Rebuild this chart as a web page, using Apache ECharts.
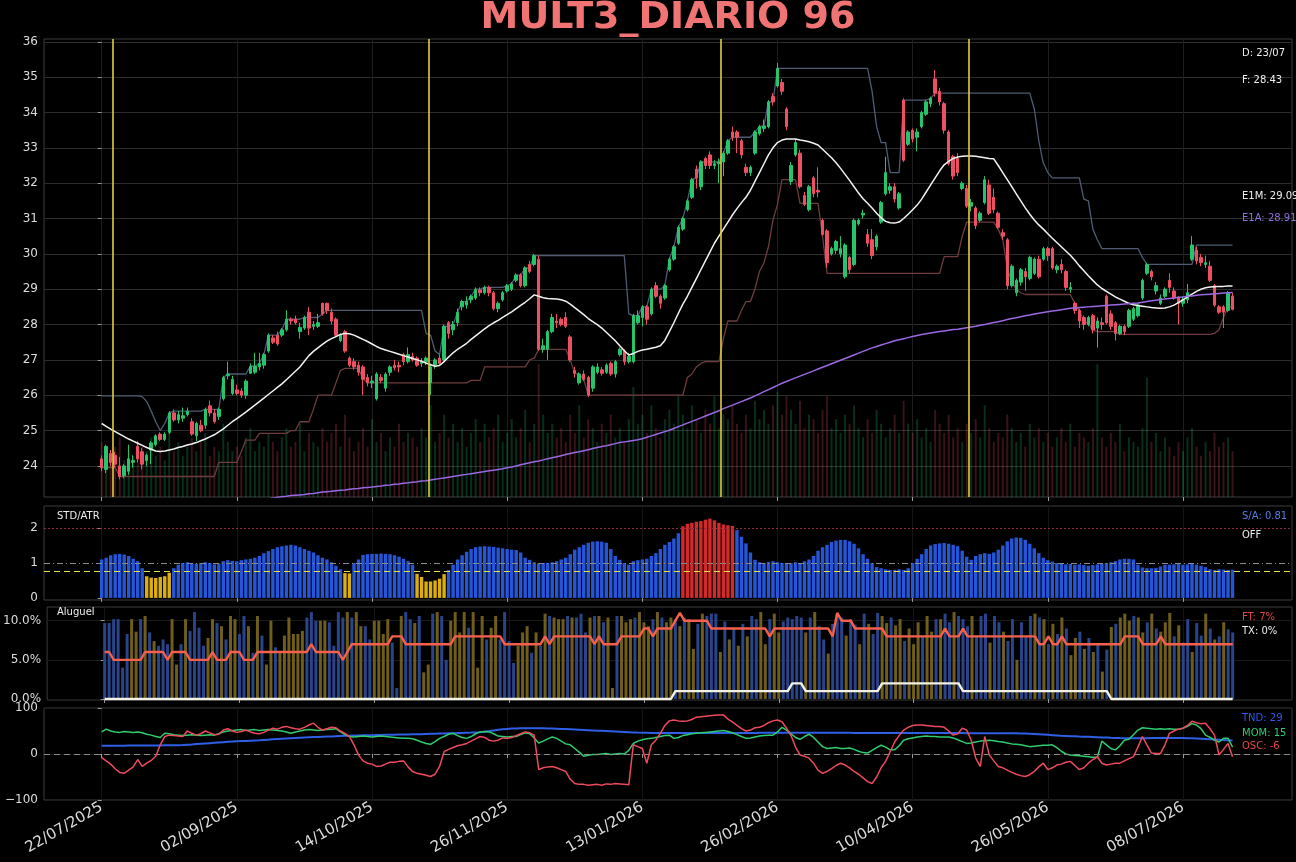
<!DOCTYPE html>
<html lang="pt-BR">
<head>
<meta charset="UTF-8">
<title>MULT3_DIARIO 96</title>
<script src="https://cdn.jsdelivr.net/npm/echarts@6.0.0/dist/echarts.min.js"></script>
<style>
  html, body { margin: 0; padding: 0; background: #000; }
  #main { width: 1296px; height: 862px; }
</style>
</head>
<body>
<div id="main"></div>
<script>
// ---- data (one entry per trading day, index 0 = 22/07/2025) ----
const tickIdx = [0, 30, 60, 90, 120, 150, 180, 210, 240];
const tickLabels = ['22/07/2025', '02/09/2025', '14/10/2025', '26/11/2025', '13/01/2026', '26/02/2026', '10/04/2026', '26/05/2026', '08/07/2026'];
const signalIdx = [2.5, 72.5, 137.5, 192.5];

const priceOpen = [
24.20,23.90,24.35,24.30,24.00,23.72,23.85,24.10,24.55,24.40,
24.15,24.45,24.60,24.90,24.75,24.95,25.50,25.30,25.35,25.45,
25.25,24.85,25.15,25.15,25.70,25.50,25.40,25.90,26.55,26.05,
26.15,26.12,26.00,26.62,26.65,26.80,26.85,27.25,27.62,27.70,
27.70,27.85,28.15,28.15,27.80,27.90,28.35,27.95,27.95,28.60,
28.60,28.35,28.15,27.55,27.80,27.05,26.95,26.85,26.80,26.50,
26.35,25.90,26.50,26.20,26.65,26.85,26.85,27.15,26.95,27.10,
27.05,26.90,26.95,26.35,26.85,27.05,27.00,28.05,27.85,28.05,
28.50,28.55,28.70,28.75,28.98,28.90,29.05,28.90,28.45,28.70,
28.95,29.00,29.25,29.40,29.10,29.70,29.70,29.85,27.30,27.30,
27.80,28.10,28.15,28.20,27.65,26.70,26.35,26.60,26.50,26.20,
26.65,26.72,26.65,26.90,26.60,27.15,27.25,26.95,26.95,28.05,
28.20,28.50,28.30,29.10,28.80,28.75,29.55,29.85,30.30,30.70,
31.25,31.60,32.40,31.90,32.70,32.80,32.50,32.55,32.60,32.85,
33.45,33.45,33.20,32.45,32.30,32.85,33.40,33.55,33.60,34.45,
34.75,34.85,34.10,32.05,32.80,32.85,31.65,31.25,32.15,31.80,
30.95,30.65,30.00,30.10,30.00,29.35,29.90,29.70,30.85,31.10,
30.55,30.40,30.20,30.90,31.70,31.80,31.90,31.30,34.35,33.10,
33.50,33.30,33.60,33.95,34.25,34.95,34.60,34.25,33.45,32.75,
32.70,31.85,31.85,31.35,31.30,30.95,31.45,31.95,31.60,31.15,
30.60,30.40,29.10,28.90,29.20,29.50,29.30,29.45,29.85,29.85,
30.15,30.15,29.55,29.70,29.50,29.00,28.60,28.40,28.20,28.00,
28.25,27.90,28.05,28.80,28.30,28.05,27.75,27.95,27.95,28.15,
28.25,28.75,29.45,29.50,28.95,28.60,28.80,29.25,28.95,28.75,
28.60,28.70,29.85,30.10,29.90,29.70,29.65,29.10,28.50,28.50,
28.40,28.80];

const priceClose = [
23.95,24.55,24.10,24.05,23.70,24.00,24.20,24.15,24.20,24.05,
24.30,24.65,24.85,24.75,24.90,25.50,25.30,25.45,25.42,25.55,
24.90,25.20,25.00,25.60,25.50,25.25,25.60,26.50,26.60,26.45,
26.05,26.00,26.40,26.82,26.82,26.90,27.15,27.70,27.50,27.45,
27.85,28.15,28.10,28.05,27.92,28.20,27.90,28.00,28.05,28.30,
28.40,28.10,27.70,27.70,27.25,26.85,26.80,26.65,26.45,26.35,
26.40,26.60,26.42,26.60,26.80,26.78,26.80,26.95,27.15,27.00,
26.85,26.95,27.05,26.80,27.00,26.90,27.95,27.75,28.00,28.35,
28.65,28.65,28.80,29.00,28.90,29.05,28.90,28.45,28.60,28.90,
29.10,29.15,29.40,29.10,29.60,29.50,29.95,27.30,27.40,27.80,
28.20,28.05,28.00,27.95,27.00,26.62,26.60,26.45,26.00,26.80,
26.80,26.62,26.85,26.60,26.95,27.30,26.95,27.10,28.25,28.25,
28.50,28.15,29.00,28.80,28.60,29.10,29.85,30.20,30.75,31.00,
31.50,32.10,32.15,32.60,32.50,32.50,32.55,32.60,32.85,33.20,
33.30,33.30,32.80,32.30,32.45,33.45,33.60,33.62,34.30,34.30,
35.25,34.60,33.60,32.50,33.15,31.90,31.40,31.90,31.70,31.75,
30.55,29.75,30.15,30.35,30.15,30.25,29.55,30.95,30.95,31.15,
30.30,29.95,30.50,31.45,32.30,31.90,31.55,31.70,32.65,33.45,
33.25,33.45,34.00,34.30,34.40,34.55,34.30,33.50,32.55,32.20,
32.30,32.00,31.35,31.45,30.80,31.15,32.10,31.15,31.25,30.75,
30.50,29.10,29.65,29.25,29.55,29.35,29.90,29.85,29.35,30.15,
29.95,29.60,29.65,29.55,29.05,29.05,28.40,28.10,28.00,28.20,
27.85,28.10,28.00,28.05,27.95,27.75,27.95,27.80,28.40,28.45,
28.55,29.25,29.70,29.35,29.10,28.75,29.00,29.05,28.75,28.60,
28.70,28.90,30.25,29.80,29.75,29.75,29.25,28.55,28.35,28.35,
28.90,28.43];

const priceLow = [
23.85,23.80,24.00,23.95,23.62,23.65,23.75,23.95,24.10,23.90,
24.00,24.05,24.55,24.70,24.70,24.90,25.25,25.20,25.25,25.40,
24.85,24.70,24.95,25.05,25.40,25.20,25.30,25.85,26.45,26.00,
26.00,25.92,25.90,26.60,26.60,26.70,26.75,27.20,27.45,27.40,
27.65,27.80,28.00,28.00,27.60,27.85,27.70,27.85,27.90,28.25,
28.30,28.00,27.65,27.50,27.20,26.80,26.72,26.55,26.00,26.25,
26.20,25.85,26.35,26.10,26.55,26.70,26.65,26.85,26.90,26.95,
26.80,26.80,26.85,26.00,26.75,26.85,26.95,27.60,27.70,27.95,
28.40,28.45,28.60,28.70,28.80,28.85,28.80,28.40,28.35,28.65,
28.90,28.95,29.20,29.05,29.05,29.45,29.65,27.25,27.20,27.00,
27.75,27.90,27.95,27.90,26.95,26.50,26.30,26.40,25.95,26.10,
26.60,26.55,26.60,26.55,26.50,27.10,26.85,26.90,26.90,28.00,
27.95,28.00,28.25,28.75,28.45,28.70,29.50,29.80,30.25,30.65,
31.20,31.55,31.85,31.80,32.40,32.40,32.40,32.00,32.20,32.80,
33.20,32.85,32.70,32.20,32.20,32.80,33.35,33.45,33.55,34.20,
34.70,34.50,33.50,31.95,32.75,31.85,31.35,31.20,31.60,31.60,
30.50,29.60,29.95,30.00,29.90,29.30,29.45,29.65,30.80,31.00,
30.20,29.85,30.10,30.85,31.65,31.70,31.45,31.25,32.60,33.05,
33.15,32.90,33.55,33.90,34.15,34.45,34.20,33.40,32.50,32.10,
32.20,31.80,31.30,31.20,30.70,30.90,31.40,31.10,31.15,30.70,
30.40,29.00,29.05,28.80,29.10,28.95,29.25,29.40,29.30,29.80,
29.80,29.55,29.45,29.45,28.95,28.90,28.30,27.90,27.85,27.95,
27.75,27.35,27.85,28.00,27.85,27.55,27.70,27.70,27.90,28.10,
28.20,28.70,29.40,29.25,28.85,28.55,28.75,28.90,28.70,28.00,
28.50,28.60,29.80,29.70,29.65,29.60,29.20,28.50,28.30,27.90,
28.35,28.40];

const priceHigh = [
24.30,24.60,24.45,24.40,24.25,24.05,24.60,24.30,24.70,24.50,
24.35,24.70,24.90,24.95,24.95,25.55,25.60,25.55,25.65,25.65,
25.35,25.25,25.30,25.65,25.85,25.60,25.65,26.55,26.95,26.55,
26.30,26.20,26.45,26.90,27.20,27.20,27.20,27.75,27.70,27.80,
27.90,28.40,28.20,28.25,28.05,28.25,28.50,28.10,28.30,28.62,
28.62,28.45,28.20,27.75,27.85,27.10,27.05,26.95,26.85,26.60,
26.55,26.65,26.60,26.65,26.85,27.00,26.95,27.20,27.35,27.20,
27.10,27.05,27.10,26.90,27.05,27.15,28.00,28.10,28.10,28.45,
28.70,28.80,28.85,29.05,29.05,29.10,29.10,28.95,28.65,28.95,
29.15,29.20,29.45,29.45,29.65,29.80,30.00,29.95,27.60,27.85,
28.30,28.30,28.20,28.35,27.70,26.80,26.65,26.70,26.55,26.85,
26.90,26.80,26.90,26.95,27.00,27.35,27.30,27.20,28.30,28.40,
28.55,28.55,29.05,29.20,28.85,29.15,29.90,30.25,30.80,31.05,
31.55,32.15,32.50,32.65,32.75,32.90,32.65,32.70,32.90,33.25,
33.60,33.50,33.25,32.55,32.50,33.50,33.65,33.80,34.35,34.55,
35.40,34.95,34.15,32.60,33.25,32.95,31.75,31.95,32.20,32.45,
31.00,30.70,30.20,30.40,30.50,30.30,29.95,31.00,31.00,31.25,
30.70,30.70,30.55,31.50,32.75,32.00,32.00,31.75,34.40,33.50,
33.55,33.55,34.05,34.35,34.45,35.20,34.70,34.30,33.50,32.80,
32.85,32.05,31.95,31.55,31.35,31.20,32.20,32.10,31.85,31.20,
30.70,30.45,29.70,29.30,29.60,29.60,29.95,29.90,29.95,30.20,
30.20,30.20,29.70,29.85,29.55,29.20,28.65,28.45,28.25,28.25,
28.30,28.20,28.20,28.85,28.40,28.10,28.00,28.00,28.45,28.50,
28.60,29.30,29.75,29.55,29.20,28.85,29.05,29.45,29.05,28.80,
28.80,29.15,30.50,30.20,30.00,29.95,29.80,29.15,28.55,28.55,
28.95,28.90];

// volume, in hundredths of the price-panel height
const volume = [
12,10,9,11,13,8,10,9,12,11, 10,13,9,11,8,14,10,12,9,11,
13,10,12,14,9,11,10,16,12,10, 11,9,13,15,10,12,11,14,12,10,
13,15,11,12,16,10,14,12,11,15, 12,14,16,11,18,13,10,12,15,11,
17,12,14,10,13,11,16,12,14,13, 11,15,13,20,12,14,18,13,16,12,
15,11,14,17,12,16,13,15,18,12, 14,17,13,15,19,12,16,29,18,14,
16,13,15,12,18,14,20,13,17,15, 12,16,14,18,13,15,12,17,24,16,
18,14,20,15,13,17,19,16,22,18, 15,20,17,14,19,16,22,15,18,17,
20,16,14,18,15,21,17,19,16,20, 23,18,22,19,16,21,15,18,17,14,
19,22,15,17,14,18,16,20,15,13, 17,14,19,16,13,15,18,14,21,16,
14,17,13,15,12,19,16,14,18,13, 15,12,16,14,17,13,20,15,12,14,
13,18,15,12,14,11,16,13,15,12, 14,11,13,15,12,16,11,14,13,12,
15,29,13,11,14,12,16,10,13,12, 11,15,26,12,14,10,13,11,9,12,
10,13,15,11,9,12,10,14,11,12, 13,10];

const ema1m = [
25.20,25.12,25.04,24.97,24.90,24.83,24.76,24.70,24.64,24.58,
24.52,24.47,24.42,24.41,24.42,24.45,24.48,24.52,24.55,24.59,
24.62,24.66,24.71,24.76,24.82,24.88,24.96,25.05,25.15,25.25,
25.34,25.43,25.52,25.62,25.72,25.82,25.92,26.02,26.12,26.22,
26.32,26.44,26.56,26.68,26.80,26.96,27.12,27.24,27.34,27.44,
27.53,27.60,27.66,27.72,27.75,27.74,27.70,27.64,27.58,27.52,
27.45,27.38,27.32,27.28,27.24,27.20,27.16,27.12,27.08,27.04,
27.00,26.96,26.91,26.86,26.82,26.84,26.95,27.08,27.20,27.30,
27.38,27.47,27.58,27.68,27.78,27.88,27.97,28.05,28.12,28.20,
28.28,28.36,28.45,28.54,28.63,28.73,28.84,28.80,28.76,28.74,
28.73,28.72,28.70,28.66,28.58,28.48,28.38,28.28,28.17,28.08,
28.00,27.90,27.78,27.66,27.54,27.40,27.26,27.14,27.18,27.24,
27.28,27.30,27.33,27.36,27.40,27.55,27.80,28.05,28.32,28.58,
28.80,29.05,29.30,29.55,29.80,30.05,30.30,30.50,30.70,30.90,
31.10,31.28,31.45,31.60,31.80,32.05,32.30,32.55,32.80,33.00,
33.15,33.22,33.25,33.25,33.25,33.22,33.20,33.17,33.13,33.08,
32.96,32.84,32.72,32.58,32.42,32.25,32.08,31.90,31.72,31.56,
31.43,31.30,31.15,31.02,30.92,30.88,30.87,30.90,31.00,31.12,
31.25,31.38,31.55,31.75,31.95,32.15,32.35,32.52,32.62,32.70,
32.74,32.76,32.77,32.77,32.76,32.74,32.72,32.70,32.69,32.50,
32.30,32.10,31.90,31.70,31.50,31.30,31.12,30.96,30.82,30.70,
30.57,30.44,30.32,30.20,30.08,29.96,29.82,29.66,29.52,29.38,
29.25,29.12,29.02,28.94,28.86,28.78,28.72,28.66,28.60,28.56,
28.54,28.52,28.50,28.48,28.47,28.46,28.47,28.50,28.55,28.62,
28.70,28.78,28.86,28.94,29.00,29.04,29.06,29.07,29.08,29.08,
29.09,29.09];

const ema1a = [
22.60,22.61,22.62,22.63,22.64,22.65,22.66,22.67,22.68,22.70,
22.71,22.72,22.73,22.74,22.75,22.77,22.78,22.79,22.80,22.81,
22.83,22.84,22.85,22.86,22.88,22.89,22.90,22.92,22.93,22.94,
22.96,22.97,22.98,23.00,23.01,23.03,23.05,23.07,23.09,23.11,
23.13,23.14,23.16,23.17,23.18,23.19,23.21,23.22,23.24,23.26,
23.27,23.28,23.30,23.31,23.32,23.34,23.35,23.36,23.38,23.39,
23.40,23.42,23.43,23.45,23.46,23.48,23.49,23.51,23.52,23.54,
23.55,23.57,23.58,23.60,23.62,23.64,23.66,23.68,23.70,23.72,
23.74,23.76,23.78,23.80,23.82,23.84,23.86,23.88,23.90,23.92,
23.95,23.97,24.00,24.03,24.06,24.09,24.12,24.14,24.17,24.20,
24.23,24.26,24.29,24.32,24.35,24.38,24.40,24.43,24.46,24.49,
24.52,24.55,24.57,24.60,24.63,24.66,24.68,24.70,24.72,24.74,
24.77,24.81,24.85,24.89,24.93,24.97,25.01,25.06,25.11,25.16,
25.21,25.26,25.31,25.36,25.41,25.46,25.51,25.56,25.62,25.67,
25.72,25.77,25.82,25.87,25.92,25.98,26.04,26.10,26.16,26.22,
26.28,26.34,26.39,26.44,26.49,26.54,26.59,26.64,26.69,26.74,
26.79,26.84,26.89,26.94,26.99,27.04,27.09,27.14,27.19,27.24,
27.29,27.34,27.38,27.42,27.46,27.50,27.54,27.57,27.60,27.63,
27.66,27.69,27.72,27.74,27.76,27.78,27.80,27.82,27.84,27.86,
27.87,27.89,27.91,27.93,27.95,27.98,28.00,28.03,28.06,28.08,
28.11,28.14,28.17,28.19,28.22,28.25,28.27,28.30,28.32,28.34,
28.36,28.38,28.40,28.42,28.44,28.46,28.47,28.48,28.49,28.50,
28.51,28.52,28.53,28.54,28.55,28.56,28.57,28.58,28.59,28.60,
28.61,28.63,28.65,28.67,28.69,28.71,28.72,28.74,28.75,28.77,
28.78,28.80,28.81,28.83,28.84,28.85,28.86,28.87,28.88,28.89,
28.90,28.91];

const chanHigh = [
25.98,25.98,25.98,25.98,25.98,25.98,25.98,25.98,25.98,25.96,
25.82,25.55,25.25,25.00,25.20,25.50,25.55,25.55,25.55,25.55,
25.55,25.55,25.55,25.60,25.60,25.60,25.60,26.50,26.60,26.60,
26.60,26.60,26.60,26.82,26.82,26.90,27.15,27.70,27.70,27.70,
27.85,28.15,28.15,28.15,28.15,28.20,28.20,28.20,28.20,28.30,
28.40,28.40,28.40,28.40,28.40,28.40,28.40,28.40,28.40,28.40,
28.40,28.40,28.40,28.40,28.40,28.40,28.40,28.40,28.40,28.40,
28.40,28.40,27.75,27.70,27.25,27.15,27.95,27.95,28.00,28.35,
28.65,28.65,28.80,29.00,29.00,29.05,29.05,29.05,29.05,29.05,
29.10,29.15,29.40,29.40,29.60,29.60,29.95,29.95,29.95,29.95,
29.95,29.95,29.95,29.95,29.95,29.95,29.95,29.95,29.95,29.95,
29.95,29.95,29.95,29.95,29.95,29.95,29.95,28.30,28.25,28.25,
28.50,28.50,29.00,29.00,29.00,29.10,29.85,30.20,30.75,31.00,
31.50,32.10,32.15,32.60,32.60,32.60,32.60,32.60,32.85,33.20,
33.30,33.30,33.30,33.30,33.30,33.45,33.60,33.62,34.30,34.30,
35.25,35.25,35.25,35.25,35.25,35.25,35.25,35.25,35.25,35.25,
35.25,35.25,35.25,35.25,35.25,35.25,35.25,35.25,35.25,35.25,
35.25,34.60,33.60,33.15,33.15,32.30,32.30,32.30,34.35,34.35,
34.35,34.35,34.35,34.35,34.40,34.55,34.55,34.55,34.55,34.55,
34.55,34.55,34.55,34.55,34.55,34.55,34.55,34.55,34.55,34.55,
34.55,34.55,34.55,34.55,34.55,34.55,34.55,34.10,33.20,32.57,
32.30,32.15,32.15,32.15,32.15,32.15,32.15,32.15,31.55,31.50,
30.70,30.40,30.15,30.15,30.15,30.15,30.15,30.15,30.15,30.15,
30.15,29.90,29.70,29.70,29.70,29.70,29.70,29.70,29.70,29.70,
29.70,29.70,29.70,30.25,30.25,30.25,30.25,30.25,30.25,30.25,
30.25,30.25];

const chanLow = [
23.95,23.95,23.95,23.95,23.70,23.70,23.70,23.70,23.70,23.70,
23.70,23.70,23.70,23.70,23.70,23.70,23.70,23.70,23.70,23.70,
23.70,23.70,23.70,23.70,23.70,23.70,24.10,24.10,24.10,24.10,
24.10,24.40,24.73,24.73,24.73,24.92,24.92,24.92,24.92,24.92,
24.92,24.92,25.00,25.00,25.25,25.25,25.25,25.60,26.00,26.00,
26.00,26.00,26.35,26.70,26.76,26.76,26.76,26.76,26.45,26.35,
26.35,26.35,26.35,26.35,26.35,26.35,26.35,26.35,26.35,26.35,
26.35,26.35,26.35,26.35,26.35,26.35,26.35,26.35,26.35,26.35,
26.35,26.35,26.42,26.42,26.42,26.80,26.80,26.80,26.80,26.80,
26.80,26.80,26.80,26.80,26.80,27.00,27.05,27.30,27.30,27.30,
27.30,27.30,27.30,27.30,27.00,26.62,26.60,26.45,26.00,26.00,
26.00,26.00,26.00,26.00,26.00,26.00,26.00,26.00,26.00,26.00,
26.00,26.00,26.00,26.00,26.00,26.00,26.00,26.00,26.00,26.00,
26.50,26.60,26.80,26.90,26.95,26.95,26.95,26.95,27.60,28.10,
28.10,28.10,28.40,28.65,28.65,29.00,29.50,29.75,30.20,30.96,
31.40,32.10,32.10,32.10,32.10,31.43,31.43,31.43,31.43,31.43,
30.50,29.45,29.45,29.45,29.45,29.45,29.45,29.45,29.45,29.45,
29.45,29.45,29.45,29.45,29.45,29.45,29.45,29.45,29.45,29.45,
29.45,29.45,29.45,29.45,29.45,29.45,29.45,29.92,29.92,29.92,
29.92,30.50,30.90,30.90,30.90,30.90,30.90,30.90,30.90,30.70,
30.40,29.60,29.20,29.00,28.90,28.85,28.85,28.85,28.85,28.85,
28.85,28.85,28.85,28.85,28.85,28.85,28.60,28.40,28.10,28.03,
27.85,27.80,27.80,27.80,27.80,27.80,27.72,27.72,27.72,27.72,
27.72,27.72,27.72,27.72,27.72,27.72,27.72,27.72,27.72,27.72,
27.72,27.72,27.72,27.72,27.72,27.72,27.72,27.75,27.85,28.20,
28.50,28.50];

const stdAtr = [
1.10,1.15,1.22,1.25,1.26,1.24,1.20,1.12,1.05,0.85,
0.62,0.58,0.57,0.60,0.62,0.72,0.85,0.95,1.00,1.02,
1.00,0.98,1.00,1.02,1.00,0.96,0.98,1.05,1.08,1.06,
1.05,1.08,1.10,1.12,1.15,1.20,1.28,1.34,1.40,1.45,
1.48,1.50,1.52,1.50,1.45,1.40,1.35,1.30,1.22,1.15,
1.10,1.02,0.92,0.82,0.71,0.70,1.00,1.10,1.23,1.25,
1.26,1.26,1.27,1.26,1.25,1.22,1.18,1.12,1.05,0.95,
0.69,0.60,0.47,0.47,0.50,0.55,0.68,0.80,0.95,1.10,
1.22,1.32,1.40,1.45,1.47,1.48,1.47,1.46,1.44,1.42,
1.40,1.38,1.37,1.30,1.15,1.09,1.02,0.98,1.00,1.00,
1.02,1.05,1.10,1.15,1.25,1.38,1.45,1.52,1.58,1.61,
1.62,1.61,1.58,1.40,1.20,1.09,1.00,0.95,1.05,1.08,
1.10,1.12,1.20,1.28,1.40,1.52,1.60,1.70,1.85,2.05,
2.12,2.15,2.18,2.20,2.24,2.27,2.22,2.15,2.10,2.08,
2.06,1.94,1.75,1.56,1.30,1.09,1.02,1.00,1.03,1.05,
1.02,1.00,0.98,1.00,1.02,1.00,1.05,1.10,1.20,1.35,
1.45,1.52,1.60,1.64,1.66,1.66,1.62,1.55,1.42,1.25,
1.12,1.00,0.88,0.85,0.82,0.80,0.80,0.82,0.80,0.85,
1.00,1.12,1.25,1.40,1.50,1.54,1.56,1.57,1.55,1.52,
1.48,1.35,1.18,1.09,1.20,1.25,1.28,1.26,1.30,1.38,
1.50,1.62,1.70,1.73,1.72,1.66,1.55,1.42,1.28,1.15,
1.08,1.04,1.00,0.98,0.96,0.97,0.95,0.96,0.94,0.92,
0.94,0.96,0.98,1.00,1.02,1.05,1.10,1.12,1.12,1.10,
0.95,0.87,0.85,0.85,0.86,0.90,0.95,0.95,0.96,0.97,
0.95,0.96,0.98,0.95,0.92,0.88,0.82,0.80,0.82,0.81,
0.80,0.81];

// aluguel bar height (%) and side: B = blue, Y = yellow
const aluguel = [
9.7,9.7,10.2,10.2,4.0,8.3,10.2,8.6,10.2,10.6,
8.5,7.4,6.8,7.6,7.0,10.2,4.4,7.0,10.2,8.7,
11.1,9.1,6.8,7.8,10.2,9.7,9.3,7.6,10.6,10.2,
8.3,10.6,9.3,5.9,10.6,8.1,4.4,10.0,6.6,5.9,
8.1,10.4,8.3,8.3,8.7,10.4,11.1,10.0,10.0,10.0,
9.8,6.8,11.1,10.4,11.1,10.4,11.1,9.3,9.3,7.6,
10.0,10.0,8.3,10.2,7.2,1.4,10.6,11.1,10.2,9.7,
10.6,3.4,4.4,10.9,11.1,10.6,5.0,10.0,11.1,8.5,
11.1,9.1,11.1,4.0,10.6,7.6,9.1,10.6,7.6,11.1,
7.4,4.6,6.8,8.5,9.3,5.9,8.5,6.8,10.9,10.6,
10.4,10.2,10.2,10.6,10.4,10.4,10.9,8.5,10.4,10.6,
10.6,9.8,10.4,1.4,10.6,10.6,9.8,10.2,10.4,11.1,
9.8,9.3,10.2,11.1,10.4,9.8,10.4,10.2,9.3,10.4,
10.2,6.4,9.6,10.9,10.6,10.9,10.9,6.0,9.9,7.6,
9.0,6.8,9.6,8.0,10.6,10.2,11.1,7.0,10.2,10.9,
8.5,9.9,10.4,10.2,10.6,10.4,8.5,10.4,11.1,9.3,
7.6,5.8,9.6,10.9,10.4,8.1,10.2,9.5,7.0,10.9,
9.6,8.3,11.0,10.6,9.7,10.4,9.4,10.2,7.4,9.0,
7.0,9.8,8.0,10.6,8.6,10.2,10.2,10.9,9.8,11.1,
10.6,10.2,9.3,10.6,8.1,10.6,10.9,7.2,10.6,9.8,
8.6,7.4,10.2,5.0,9.8,8.0,10.6,10.9,10.4,10.2,
7.0,9.6,8.3,10.4,9.0,5.6,7.8,8.6,6.4,7.8,
6.0,7.0,3.5,6.3,9.2,9.6,10.4,10.9,10.0,10.6,
10.4,8.5,9.8,10.9,9.0,8.6,9.8,11.0,8.0,9.4,
7.2,10.2,6.0,9.7,8.1,10.9,9.0,7.6,8.0,9.8,
8.9,8.5];
const aluguelSide = (
'BBBBBBYYBY' + 'BYBBBYYBYB' + 'BBBYYBYBYY' + 'BBYBYBYYBY' + 'YYYYYBBBYY' +
'BBBBYBYYBB' + 'YYYYBBYBBY' + 'BYYBYBBYYY' + 'YBYYYBYYBB' + 'BBYYYBYBYB' +
'YYYBYBBBYB' + 'YBYYBYYYBY' + 'YYBYBYYBYB' + 'YYBYBBBYBY' + 'BYBYBBYYBY' +
'YBBBBBYBYB' + 'BYBBBYBBYB' + 'YBBYYBYYBY' + 'YYBYYBYBBY' + 'BBBYBBBYBB' +
'YBBYBBBYBY' + 'BYBYBYYBYB' + 'YBYBYBYYYB' + 'YYBYBYYYBY' + 'BBYBBYBYBY' + 'BB').split('');

const ftRate = [
6,6,5,5,5,5,5,5,5,6, 6,6,6,6,5,6,6,6,6,5,
5,5,5,5,6,5,5,5,6,6, 6,5,5,5,6,6,6,6,6,6,
6,6,6,6,6,6,7,6,6,6, 6,6,6,5,6,7,7,7,7,7,
7,7,7,7,8,8,8,7,7,7, 7,7,7,7,7,7,7,7,8,8,
8,8,8,8,8,8,8,8,8,7, 7,7,7,7,7,7,7,7,8,7,
8,8,8,8,8,8,8,8,8,7, 8,7,7,7,7,8,8,8,8,8,
9,9,8,9,9,9,9,10,11,10, 10,10,10,10,10,9,9,9,9,9,
9,9,9,9,9,9,9,9,8,9, 9,9,9,9,9,9,9,9,9,9,
9,9,8,11,10,10,10,9,9,9, 9,9,9,9,8,8,8,8,8,8,
8,8,8,8,8,8,8,9,8,8, 8,9,8,8,8,8,8,8,8,8,
8,8,8,8,8,8,8,8,7,7, 8,7,7,8,7,7,7,7,7,7,
7,7,7,7,7,7,7,8,8,8, 8,7,7,7,7,8,7,7,7,7,
7,7,7,7,7,7,7,7,7,7, 7,7];

const txRate = [
0,0,0,0,0,0,0,0,0,0, 0,0,0,0,0,0,0,0,0,0,
0,0,0,0,0,0,0,0,0,0, 0,0,0,0,0,0,0,0,0,0,
0,0,0,0,0,0,0,0,0,0, 0,0,0,0,0,0,0,0,0,0,
0,0,0,0,0,0,0,0,0,0, 0,0,0,0,0,0,0,0,0,0,
0,0,0,0,0,0,0,0,0,0, 0,0,0,0,0,0,0,0,0,0,
0,0,0,0,0,0,0,0,0,0, 0,0,0,0,0,0,0,0,0,0,
0,0,0,0,0,0,0,1,1,1, 1,1,1,1,1,1,1,1,1,1,
1,1,1,1,1,1,1,1,1,1, 1,1,1,2,2,2,1,1,1,1,
1,1,1,1,1,1,1,1,1,1, 1,1,1,2,2,2,2,2,2,2,
2,2,2,2,2,2,2,2,2,2, 2,1,1,1,1,1,1,1,1,1,
1,1,1,1,1,1,1,1,1,1, 1,1,1,1,1,1,1,1,1,1,
1,1,1,1,0,0,0,0,0,0, 0,0,0,0,0,0,0,0,0,0,
0,0,0,0,0,0,0,0,0,0, 0,0];

const tnd = [
18.0,18.0,18.1,18.1,18.2,18.2,18.3,18.3,18.4,18.4,
18.5,18.5,18.6,18.7,18.8,18.9,19.0,19.2,19.6,20.2,
20.8,21.5,22.2,22.9,23.6,24.3,25.0,25.7,26.4,27.0,
27.5,28.0,28.5,29.0,29.5,30.0,30.6,31.2,31.8,32.4,
33.0,33.6,34.2,34.8,35.4,35.9,36.3,36.7,37.1,37.5,
37.9,38.3,38.7,39.1,39.5,39.8,40.1,40.3,40.6,40.8,
41.0,41.2,41.4,41.6,41.8,42.0,42.2,42.4,42.6,42.8,
43.0,43.2,43.5,43.8,44.1,44.4,44.7,45.0,45.3,45.6,
45.9,46.2,46.5,47.0,47.5,48.5,49.8,51.2,52.5,53.6,
54.5,55.2,55.6,55.8,55.9,56.0,56.0,55.9,55.8,55.6,
55.3,55.0,54.6,54.2,53.8,53.3,52.8,52.3,51.8,51.3,
50.8,50.3,49.8,49.3,48.8,48.3,47.8,47.3,46.8,46.5,
46.3,46.1,45.9,45.8,45.7,45.6,45.6,45.6,45.6,45.6,
45.6,45.6,45.6,45.6,45.6,45.6,45.7,45.7,45.7,45.7,
45.7,45.8,45.8,45.8,45.9,45.9,46.0,46.0,46.1,46.1,
46.2,46.2,46.3,46.3,46.4,46.4,46.4,46.4,46.3,46.3,
46.2,46.2,46.1,46.1,46.0,46.0,46.0,45.9,45.9,45.9,
45.8,45.8,45.8,45.8,45.8,45.7,45.7,45.7,45.7,45.7,
45.7,45.7,45.7,45.6,45.6,45.6,45.5,45.5,45.5,45.4,
45.4,45.4,45.3,45.3,45.3,45.2,45.2,45.2,45.1,45.1,
45.1,45.0,45.0,45.0,44.8,44.5,44.0,43.4,42.8,42.2,
41.6,41.0,40.4,39.8,39.3,38.8,38.4,38.0,37.7,37.3,
36.9,36.5,36.1,35.7,35.3,35.0,34.6,34.3,34.2,34.2,
34.3,34.4,34.5,34.6,34.7,34.8,34.9,35.0,35.0,35.0,
34.8,34.5,34.1,33.6,33.1,32.6,32.1,31.6,31.1,30.6,
30.0,29.4];

const mom = [
48,54,50,48,47,49,48,47,48,46, 43,41,38,36,45,44,42,41,40,41,
42,41,40,41,42,41,44,48,50,51, 52,53,51,52,53,51,52,53,52,51,
50,48,45,48,50,52,53,52,51,52, 53,54,55,48,42,38,37,38,39,38,
37,38,39,38,37,36,35,34,34,33, 30,26,23,21,27,34,38,43,45,40,
36,34,38,44,48,49,48,44,39,38, 37,38,38,42,46,44,35,24,28,33,
37,34,28,22,20,12,4,-5,-3,-1, -1,0,1,-1,0,1,0,8,23,28,
31,33,34,36,38,40,41,34,36,40, 42,44,45,46,47,48,49,50,51,49,
46,42,38,34,35,37,39,40,41,41, 48,58,52,44,36,32,38,43,36,26,
16,12,13,14,12,12,13,10,6,3, 2,8,14,19,15,9,9,18,30,33,
35,37,38,39,38,38,37,37,37,35, 31,27,23,24,26,28,29,30,29,27,
26,24,22,21,20,18,16,17,18,19, 19,20,14,6,0,-2,-3,-4,-5,-6,
-7,-7,28,20,12,9,18,30,32,42, 52,57,56,55,54,55,54,55,54,54,
56,60,66,63,55,41,36,30,26,34, 34,15];

const osc = [
-8,-15,-22,-32,-40,-42,-35,-28,-12,-27, -20,-14,-5,20,38,41,40,39,38,50,
45,41,44,50,46,42,43,52,55,50, 47,49,52,48,45,44,47,52,56,54,
58,60,57,55,54,58,63,67,58,52, 55,58,57,50,45,38,20,-2,-15,-20,
-22,-27,-26,-22,-18,-18,-16,-15,-28,-38, -42,-44,-46,-49,-44,-27,5,10,14,18,
20,23,28,33,38,36,30,28,30,35, 34,36,40,44,48,46,41,-34,-30,-28,
-27,-30,-34,-38,-55,-64,-66,-66,-68,-67, -66,-68,-65,-66,-64,-65,-66,-67,20,16,
12,-20,20,30,45,62,72,74,72,71, 72,75,80,81,82,83,84,85,85,76,
70,62,55,50,52,57,58,62,68,72, 74,70,56,40,15,-2,-5,-9,-20,-35,
-42,-38,-32,-25,-20,-24,-30,-38,-44,-52, -60,-64,-50,-30,-16,5,26,40,52,58,
62,63,63,62,61,60,60,58,50,41, 44,56,52,30,-9,-27,38,-2,-15,-27,
-30,-35,-40,-44,-47,-49,-45,-38,-28,-20, -34,-30,-24,-22,-18,-16,-25,-34,-30,-20,
-12,-6,-20,-24,-22,-20,-20,-15,-10,-6, 15,38,20,2,1,1,20,45,50,54,
56,62,71,68,66,67,55,41,-2,10, 23,-6];

// ---- chart ----
const FONT = 'DejaVu Sans';
const UP = '#26c46c', DOWN = '#ee4f62';
const SIGNAL = '#e8cc3c';
const X_MIN = -12.8, X_MAX = 264.2;
const pts = arr => arr.map((v, i) => [i, v]);

function gridBox(top, height) {
  return { left: 44, top: top, width: 1248, height: height, show: true,
           borderColor: '#3c3c3c', borderWidth: 1, backgroundColor: '#000' };
}

function xAxisFor(k) {
  return {
    type: 'value', gridIndex: k, min: X_MIN, max: X_MAX,
    axisLine: { show: false },
    axisTick: { show: true, customValues: tickIdx, length: 4, lineStyle: { color: '#999' } },
    axisLabel: k === 3 ? {
      show: true, customValues: tickIdx, rotate: 30, margin: 6,
      color: '#dcdcdc', fontSize: 15, fontFamily: FONT,
      formatter: v => tickLabels[tickIdx.indexOf(v)]
    } : { show: false },
    splitLine: { show: true, lineStyle: { color: k === 0 ? '#1e1e1e' : '#141414', width: 1 } }
  };
}

function yAxisFor(k, min, max, ticks, fmt, splitColor) {
  return {
    type: 'value', gridIndex: k, min: min, max: max,
    axisLine: { show: false },
    axisTick: { show: true, customValues: ticks, length: 4, lineStyle: { color: '#999' } },
    axisLabel: { show: true, customValues: ticks, color: '#dcdcdc', fontSize: 12,
                 fontFamily: FONT, margin: 6, formatter: fmt },
    splitLine: { show: !!splitColor, lineStyle: { color: splitColor || '#000', width: 1 } }
  };
}

const lineSeries = (name, data, xi, yi, color, width, z) => ({
  name: name, type: 'line', xAxisIndex: xi, yAxisIndex: yi, data: pts(data),
  showSymbol: false, symbol: 'none', z: z || 3,
  lineStyle: { color: color, width: width }
});

const bareMark = { silent: true, symbol: 'none', animation: false, label: { show: false } };

const texts = [
  { x: 57, y: 516, t: 'STD/ATR', c: '#eeeeee' },
  { x: 57, y: 612, t: 'Aluguel', c: '#eeeeee' },
  { x: 1242, y: 53, t: 'D: 23/07', c: '#eeeeee' },
  { x: 1242, y: 80, t: 'F: 28.43', c: '#eeeeee' },
  { x: 1242, y: 196, t: 'E1M: 29.09', c: '#eeeeee' },
  { x: 1242, y: 218, t: 'E1A: 28.91', c: '#8e70d6' },
  { x: 1242, y: 516, t: 'S/A: 0.81', c: '#5a7ee0' },
  { x: 1242, y: 535, t: 'OFF', c: '#eeeeee' },
  { x: 1242, y: 617, t: 'FT: 7%', c: '#e04848' },
  { x: 1242, y: 631, t: 'TX: 0%', c: '#eeeeee' },
  { x: 1242, y: 718, t: 'TND: 29', c: '#3158e6' },
  { x: 1242, y: 733, t: 'MOM: 15', c: '#2ecc71' },
  { x: 1242, y: 746, t: 'OSC: -6', c: '#e04848' }
];

const option = {
  backgroundColor: '#000',
  animation: false,
  grid: [gridBox(39, 458), gridBox(506, 94), gridBox(607, 93), gridBox(708, 92)],
  xAxis: [xAxisFor(0), xAxisFor(1), xAxisFor(2), xAxisFor(3)],
  yAxis: [
    yAxisFor(0, 23.12, 36.08, [24,25,26,27,28,29,30,31,32,33,34,35,36], v => String(v), '#2c2c2c'),
    { type: 'value', gridIndex: 0, min: 0, max: 100, show: false, splitLine: { show: false } },
    yAxisFor(1, -0.06, 2.63, [0,1,2], v => String(v), null),
    yAxisFor(2, -0.13, 11.75, [0,5,10], v => v.toFixed(1) + '%', '#1a1a1a'),
    yAxisFor(3, -100, 100, [-100,0,100], v => v < 0 ? '\u2212' + Math.abs(v) : String(v), '#1a1a1a')
  ],
  graphic: [
    { type: 'text', x: 668, y: 18, z: 100,
      style: { text: 'MULT3_DIARIO 96', fill: '#f07474', font: 'bold 38px "DejaVu Sans"',
               align: 'center', verticalAlign: 'middle' } }
  ].concat(texts.map(o => ({
    type: 'text', x: o.x, y: o.y, z: 100,
    style: { text: o.t, fill: o.c, font: '10px "DejaVu Sans"', align: 'left', verticalAlign: 'middle' }
  }))),
  series: [
    {
      name: 'Volume', type: 'bar', xAxisIndex: 0, yAxisIndex: 1, data: pts(volume),
      barWidth: 2, z: 1,
      itemStyle: { color: p => priceClose[p.dataIndex] >= priceOpen[p.dataIndex]
        ? 'rgba(38,196,108,0.24)' : 'rgba(238,79,98,0.24)' }
    },
    lineSeries('Canal alto', chanHigh, 0, 0, '#4e5b73', 1.3, 2),
    lineSeries('Canal baixo', chanLow, 0, 0, '#6d3c3e', 1.3, 2),
    {
      name: 'Preço', type: 'candlestick', xAxisIndex: 0, yAxisIndex: 0,
      data: priceClose.map((c, i) => [i, priceOpen[i], c, priceLow[i], priceHigh[i]]),
      encode: { x: 0, y: [1, 2, 3, 4] },
      barWidth: 3, z: 3,
      itemStyle: { color: UP, color0: DOWN, borderColor: UP, borderColor0: DOWN, borderWidth: 1 },
      markLine: Object.assign({}, bareMark, {
        data: signalIdx.map(v => ({
          xAxis: v, lineStyle: { color: SIGNAL, width: 1.6, type: 'solid', opacity: 1 },
          itemStyle: { color: SIGNAL }
        }))
      })
    },
    lineSeries('E1M', ema1m, 0, 0, '#f2f2f2', 1.5, 4),
    lineSeries('E1A', ema1a, 0, 0, '#9a68e0', 1.5, 4),
    {
      name: 'STD/ATR', type: 'bar', xAxisIndex: 1, yAxisIndex: 2, data: pts(stdAtr),
      barWidth: 3.4, z: 2,
      itemStyle: { color: p => p.value[1] > 2 ? '#d02a2a' : (p.value[1] < 0.75 ? '#ddae10' : '#2656d8') },
      markLine: Object.assign({}, bareMark, {
        data: [
          { yAxis: 2, lineStyle: { color: '#8e2d40', type: [2, 2], width: 1 } },
          { yAxis: 1, lineStyle: { color: '#8a8a8a', type: [6, 3, 1, 3], width: 1 } },
          { yAxis: 0.75, lineStyle: { color: '#e6e04a', type: [6, 4], width: 1.2 } }
        ]
      })
    },
    {
      name: 'Aluguel', type: 'bar', xAxisIndex: 2, yAxisIndex: 3, data: pts(aluguel),
      barWidth: 3, z: 2,
      itemStyle: { color: p => aluguelSide[p.dataIndex] === 'Y' ? '#6e5d1b' : '#29448a' }
    },
    lineSeries('FT', ftRate, 2, 3, '#f4604c', 2.4, 4),
    lineSeries('TX', txRate, 2, 3, '#f3f1e4', 2.4, 4),
    Object.assign(lineSeries('TND', tnd, 3, 4, '#2f5fe4', 2, 3), {
      markLine: Object.assign({}, bareMark, {
        data: [{ yAxis: 0, lineStyle: { color: '#8a8a8a', type: [6, 4], width: 1 } }]
      })
    }),
    lineSeries('MOM', mom, 3, 4, '#2fcc6e', 1.5, 4),
    lineSeries('OSC', osc, 3, 4, '#ee4a5e', 1.5, 5)
  ]
};

const chart = echarts.init(document.getElementById('main'), null, { renderer: 'canvas' });
chart.setOption(option);
</script>
</body>
</html>
